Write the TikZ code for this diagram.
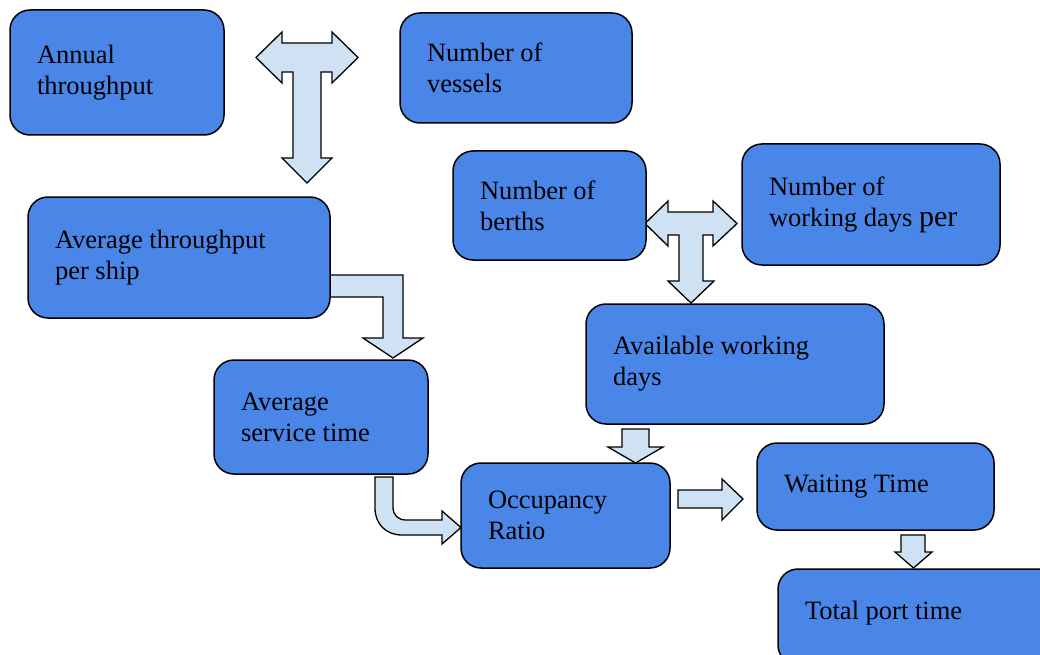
\documentclass[tikz,border=0pt]{standalone}
\usepackage{fontspec}
\setmainfont{Liberation Serif}
\definecolor{boxblue}{RGB}{74,134,232}
\definecolor{arrowblue}{RGB}{207,226,243}
\begin{document}
\begin{tikzpicture}[x=1pt,y=-1pt,
  box/.style={draw=black, line width=1.5pt, rounded corners=20pt, fill=boxblue,
    align=flush left, inner xsep=27pt, inner ysep=0pt, font=\fontsize{26.5}{31}\selectfont},
  blockarrow/.style={draw=black, line width=1.3pt, fill=arrowblue, line join=miter}]
\useasboundingbox (0,0) rectangle (1040,655);
\clip (0,0) rectangle (1040,655);

% block arrows drawn first
\draw[blockarrow] (256,57.5) -- (282,32) -- (282,43) -- (332,43) -- (332,32) -- (358,57.5)
  -- (332,83) -- (332,72) -- (321,72) -- (321,158) -- (332,158) -- (307,183) -- (282,158)
  -- (293,158) -- (293,72) -- (282,72) -- (282,83) -- cycle;
\draw[blockarrow] (318,275) -- (403,275) -- (403,338) -- (423,338) -- (393,358) -- (363,338)
  -- (383,338) -- (383,297) -- (318,297) -- cycle;
\draw[blockarrow] (375,477) -- (375,508) .. controls (375,524) and (386,535) .. (402,535)
  -- (442,535) -- (442,544) -- (461,527.5) -- (442,511) -- (442,520) -- (406,520)
  .. controls (398,520) and (393,515) .. (393,507) -- (393,477) -- cycle;
\draw[blockarrow] (645,223.5) -- (668,201) -- (668,212) -- (713,212) -- (713,201) -- (737,223.5)
  -- (713,246) -- (713,235) -- (703,235) -- (703,281) -- (714,281) -- (691,303) -- (668,281)
  -- (679,281) -- (679,235) -- (668,235) -- (668,246) -- cycle;
\draw[blockarrow] (622,429) -- (649,429) -- (649,447) -- (663,447) -- (635.5,463) -- (608,447)
  -- (622,447) -- cycle;
\draw[blockarrow] (678,490) -- (722,490) -- (722,479) -- (743,499) -- (722,520) -- (722,508)
  -- (678,508) -- cycle;
\draw[blockarrow] (901,535) -- (925,535) -- (925,552) -- (932,552) -- (913.5,568) -- (895,552)
  -- (901,552) -- cycle;

% boxes
\node[box, minimum width=214, minimum height=125, text width=160] (annual) at (117,72.5) {\raisebox{6pt}{Annual}\\\raisebox{6pt}{throughput}};
\node[box, minimum width=232, minimum height=110, text width=178] (vessels) at (516,68) {Number of\\vessels};
\node[box, minimum width=193, minimum height=109, text width=139] (berths) at (549.5,205.5) {Number of\\berths};
\node[box, minimum width=258, minimum height=121, text width=204] (workdays) at (871,204.5) {Number of\\working days {\fontsize{30}{31}\selectfont per}};
\node[box, minimum width=302, minimum height=121, text width=248] (avgthr) at (179,257.5) {Average throughput\\per ship};
\node[box, minimum width=298, minimum height=120, text width=244] (avail) at (735,364) {Available working\\days};
\node[box, minimum width=214, minimum height=114, text width=160] (service) at (321,417) {Average\\service time};
\node[box, minimum width=209, minimum height=105, text width=155] (occ) at (565.5,515.5) {Occupancy\\Ratio};
\node[box, minimum width=237, minimum height=87, text width=183] (waiting) at (875.5,486.5) {Waiting Time};
\node[box, minimum width=302, minimum height=96, text width=248] (total) at (929,617) {\raisebox{14pt}{Total port time}};
\end{tikzpicture}
\end{document}
